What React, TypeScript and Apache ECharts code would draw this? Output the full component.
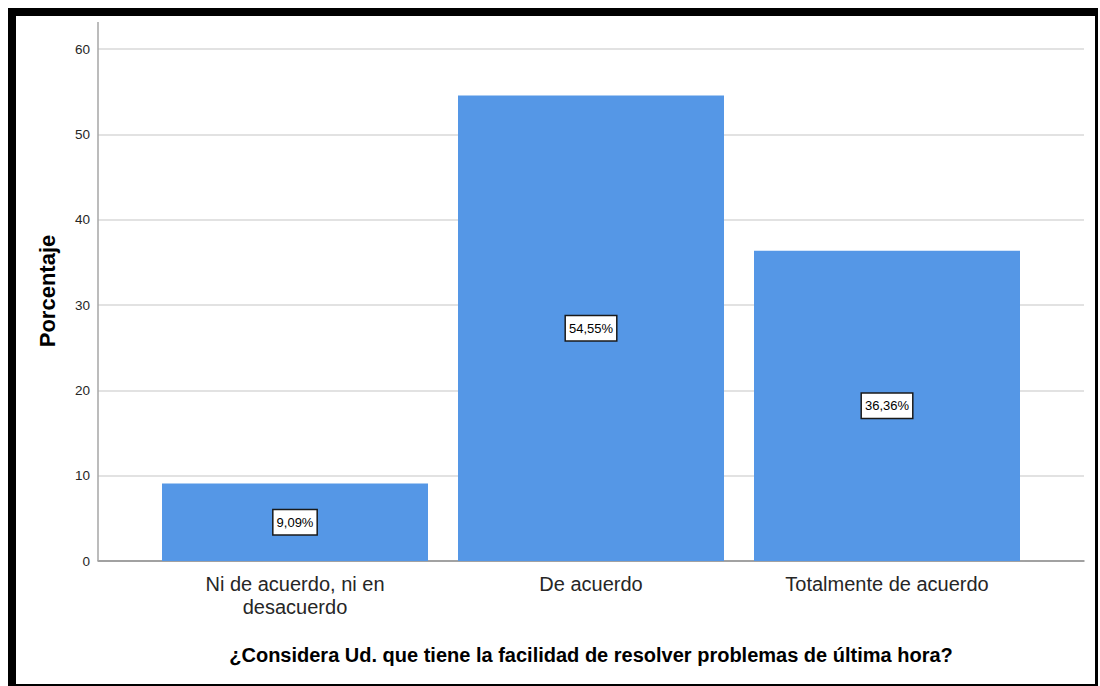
import React, { useEffect, useRef } from "react";
import * as echarts from "echarts";

const categories = ["Ni de acuerdo, ni en\ndesacuerdo", "De acuerdo", "Totalmente de acuerdo"];
const values = [9.09, 54.55, 36.36];
const yTicks = [0, 10, 20, 30, 40, 50, 60];
const yTitle = "Porcentaje";
const xTitle = "¿Considera Ud. que tiene la facilidad de resolver problemas de última hora?";

const FONT = "'Liberation Sans', Arial, sans-serif";

export default function App() {
  const ref = useRef<HTMLDivElement>(null);
  useEffect(() => {
    if (!ref.current) return;
    const chart = echarts.init(ref.current, undefined, { renderer: "svg" });
    const yMin = yTicks[0];
    const yMax = yTicks[yTicks.length - 1];
    const yInt = yTicks[1] - yTicks[0];
    chart.setOption({
      animation: false,
      backgroundColor: "#ffffff",
      textStyle: { fontFamily: FONT },
      grid: [
        { left: 82, right: 11, top: 33, bottom: 123 },
        { left: 131, right: 60, top: 33, bottom: 123 },
      ],
      xAxis: [
        {
          gridIndex: 0,
          type: "category",
          data: [""],
          axisLine: { show: true, lineStyle: { color: "#8c8c8c", width: 1.5 } },
          axisTick: { show: false },
          axisLabel: { show: false },
          splitLine: { show: false },
        },
        {
          gridIndex: 1,
          type: "category",
          data: categories,
          axisLine: { show: false },
          axisTick: { show: false },
          axisLabel: {
            show: true,
            margin: 11,
            fontSize: 20,
            lineHeight: 23,
            color: "#262626",
            fontFamily: FONT,
          },
        },
      ],
      yAxis: [
        {
          gridIndex: 0,
          type: "value",
          min: yMin,
          max: yMax,
          interval: yInt,
          axisLine: { show: false },
          axisTick: { show: false },
          axisLabel: { margin: 8, fontSize: 13.5, color: "#262626", fontFamily: FONT },
          splitLine: { show: true, lineStyle: { color: "#d9d9d9", width: 1.5 } },
        },
        {
          gridIndex: 1,
          type: "value",
          min: yMin,
          max: yMax,
          interval: yInt,
          show: false,
          splitLine: { show: false },
        },
      ],
      series: [
        {
          type: "bar",
          xAxisIndex: 1,
          yAxisIndex: 1,
          data: values,
          barWidth: 266,
          itemStyle: { color: "#5597e6" },
          label: {
            show: true,
            position: "inside",
            formatter: (p: any) => p.value.toFixed(2).replace(".", ",") + "%",
            fontSize: 13,
            lineHeight: 15,
            color: "#000000",
            fontFamily: FONT,
            backgroundColor: "#ffffff",
            borderColor: "#1a1a1a",
            borderWidth: 1.5,
            padding: [5, 3, 4, 3],
          },
        },
      ],
      graphic: [
        {
          type: "line",
          shape: { x1: 82, y1: 6, x2: 82, y2: 545 },
          style: { stroke: "#a6a6a6", lineWidth: 1.5 },
          z: 10,
        },
        {
          type: "text",
          x: 31,
          y: 275,
          rotation: Math.PI / 2,
          style: {
            text: yTitle,
            fontSize: 22,
            fontWeight: "bold",
            fontFamily: FONT,
            fill: "#000000",
            align: "center",
            verticalAlign: "middle",
          },
        },
        {
          type: "text",
          x: 575,
          y: 639,
          style: {
            text: xTitle,
            fontSize: 20,
            fontWeight: "bold",
            fontFamily: FONT,
            fill: "#000000",
            align: "center",
            verticalAlign: "middle",
          },
        },
      ],
    });
    return () => chart.dispose();
  }, []);
  return (
    <div
      style={{
        position: "fixed",
        left: 8,
        top: 8,
        borderLeft: "8px solid #000",
        borderTop: "8px solid #000",
        borderRight: "3px solid #000",
        borderBottom: "2px solid #000",
        background: "#fff",
      }}
    >
      <div ref={ref} style={{ width: 1079, height: 668 }} />
    </div>
  );
}
